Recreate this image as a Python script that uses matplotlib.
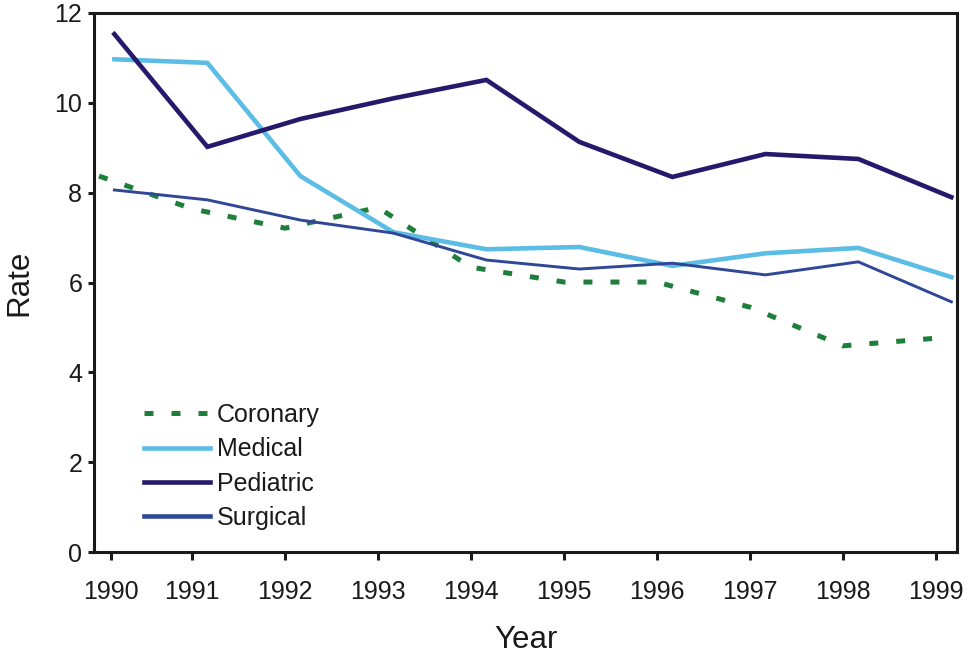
import matplotlib
matplotlib.use("Agg")
import matplotlib.pyplot as plt

plt.rcParams['font.family'] = ['Liberation Sans', 'DejaVu Sans']

years = [1990, 1991, 1992, 1993, 1994, 1995, 1996, 1997, 1998, 1999]
tick_labels = [str(y) for y in years]

coronary = [8.37, 7.64, 7.21, 7.67, 6.34, 6.01, 6.01, 5.45, 4.59, 4.76]
medical = [10.97, 10.89, 8.37, 7.12, 6.74, 6.79, 6.37, 6.65, 6.77, 6.12]
pediatric = [11.53, 9.02, 9.64, 10.10, 10.51, 9.13, 8.35, 8.86, 8.75, 7.90]
surgical = [8.06, 7.84, 7.39, 7.10, 6.50, 6.30, 6.43, 6.17, 6.46, 5.57]

# the three solid series are drawn slightly right of the year ticks in the original
solid_shift = 0.165

fig = plt.figure(figsize=(9.76, 6.56), dpi=100)
ax = fig.add_axes([94/976, 1-552/656, (957-94)/976, (552-13)/656])

xs = [y + solid_shift for y in years]
ax.plot(years, coronary, color='#1e7f3b', lw=3.6, dashes=(1.8, 3.6),
        dash_capstyle='butt', label='Coronary', zorder=2)
ax.plot(xs, medical, color='#5bbde6', lw=3.3, label='Medical', zorder=3,
        solid_joinstyle='miter')
ax.plot(xs, pediatric, color='#25196b', lw=3.3, label='Pediatric', zorder=4,
        solid_joinstyle='miter')
ax.plot(xs, surgical, color='#2f4796', lw=2.1, label='Surgical', zorder=5,
        solid_joinstyle='miter')

ax.set_xlim(1989.946, 1999.226)
ax.set_ylim(0, 12)
ax.set_yticks([0, 2, 4, 6, 8, 10, 12])
tick_pos = list(years)
tick_pos[0] = years[0] + 0.13
ax.set_xticks(tick_pos)
ax.set_xticklabels(tick_labels)

for s in ax.spines.values():
    s.set_linewidth(2.2)
    s.set_color('#1a1a1a')

ax.tick_params(axis='x', direction='out', length=5.5, width=2.2, pad=15,
               labelsize=18, colors='#1a1a1a')
ax.tick_params(axis='y', direction='out', length=4.5, width=2.2, pad=4,
               labelsize=18, colors='#1a1a1a')

ax.set_xlabel('Year', fontsize=22.5, color='#1a1a1a', labelpad=15)
ax.set_ylabel('Rate', fontsize=22.5, color='#1a1a1a', labelpad=14)

leg = ax.legend(loc='upper left', bbox_to_anchor=(0.058, 0.276), frameon=False,
                fontsize=18, handlelength=2.64, handletextpad=0.28,
                labelspacing=0.41, borderpad=0, borderaxespad=0)
for t in leg.get_texts():
    t.set_color('#1a1a1a')
for h in leg.get_lines():
    h.set_linewidth(3.3 if h.get_label() != 'Coronary' else 3.6)

fig.savefig('out.png', dpi=100)
